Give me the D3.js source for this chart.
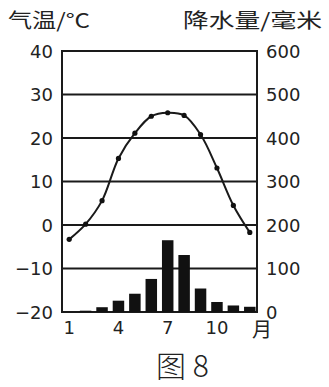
<!DOCTYPE html>
<html>
<head>
<meta charset="utf-8">
<script src="https://cdn.jsdelivr.net/npm/d3@7"></script>
<style>
  body { margin: 0; background: #fff; }
  text { fill: #222; }
</style>
</head>
<body>
<svg id="chart" width="329" height="387"></svg>
<script>
// month data
var months = [1, 2, 3, 4, 5, 6, 7, 8, 9, 10, 11, 12];
var temps = [-3.3, 0.2, 5.6, 15.3, 21.1, 25.0, 25.8, 25.2, 20.8, 13.1, 4.5, -1.7];
var precip = [0, 3, 11, 26, 42, 76, 165, 131, 54, 23, 15, 12];
var tempTicks = [-20, -10, 0, 10, 20, 30, 40];
var precipTicks = [0, 100, 200, 300, 400, 500, 600];
var monthLabels = [1, 4, 7, 10];

var svg = d3.select("#chart");
var plotL = 62, plotR = 257, plotT = 51, plotB = 312;

var x = d3.scaleBand().domain(months).range([61, 258]).paddingInner(0.3).paddingOuter(0.15);
var yT = d3.scaleLinear().domain([-20, 40]).range([plotB, plotT]);
var yP = d3.scaleLinear().domain([0, 600]).range([plotB, plotT]);

// horizontal grid lines
svg.append("g").selectAll("line")
  .data(tempTicks)
  .enter().append("line")
  .attr("x1", plotL).attr("x2", plotR)
  .attr("y1", function(d){ return yT(d); })
  .attr("y2", function(d){ return yT(d); })
  .attr("stroke", "#1a1a1a").attr("stroke-width", 2);

// frame sides
svg.append("line").attr("x1", plotL).attr("x2", plotL).attr("y1", plotT - 1).attr("y2", plotB + 1)
  .attr("stroke", "#1a1a1a").attr("stroke-width", 2);
svg.append("line").attr("x1", plotR).attr("x2", plotR).attr("y1", plotT - 1).attr("y2", plotB + 1)
  .attr("stroke", "#1a1a1a").attr("stroke-width", 2);

// precipitation bars
svg.append("g").selectAll("rect")
  .data(months)
  .enter().append("rect")
  .attr("x", function(d){ return x(d); })
  .attr("width", x.bandwidth())
  .attr("y", function(d, i){ return yP(precip[i]); })
  .attr("height", function(d, i){ return plotB - yP(precip[i]); })
  .attr("fill", "#111");

// temperature curve
var line = d3.line()
  .x(function(d, i){ return x(months[i]) + x.bandwidth() / 2; })
  .y(function(d){ return yT(d); })
  .curve(d3.curveCatmullRom);
svg.append("path")
  .attr("d", line(temps))
  .attr("fill", "none").attr("stroke", "#1a1a1a").attr("stroke-width", 2);
svg.append("g").selectAll("circle")
  .data(temps)
  .enter().append("circle")
  .attr("cx", function(d, i){ return x(months[i]) + x.bandwidth() / 2; })
  .attr("cy", function(d){ return yT(d); })
  .attr("r", 2.6).attr("fill", "#111");

// axis labels
var numFont = "'DejaVu Sans', sans-serif";
svg.append("g").selectAll("text")
  .data(tempTicks)
  .enter().append("text")
  .attr("x", 53).attr("y", function(d){ return yT(d) + 6.5; })
  .attr("text-anchor", "end")
  .style("font-family", numFont).style("font-size", "18px")
  .text(function(d){ return d < 0 ? "\u2212" + Math.abs(d) : d; });

svg.append("g").selectAll("text")
  .data(precipTicks)
  .enter().append("text")
  .attr("x", 266).attr("y", function(d){ return yP(d) + 6.5; })
  .style("font-family", numFont).style("font-size", "18px")
  .text(function(d){ return d; });

svg.append("g").selectAll("text")
  .data(monthLabels)
  .enter().append("text")
  .attr("x", function(d){ return x(d) + x.bandwidth() / 2; })
  .attr("y", 334)
  .attr("text-anchor", "middle")
  .style("font-family", numFont).style("font-size", "18px")
  .text(function(d){ return d; });

var cjk = "'Noto Sans CJK SC', sans-serif";
svg.append("text").attr("x", 252).attr("y", 337)
  .style("font-family", cjk).style("font-size", "20px").text("月");

svg.append("text").attr("x", 8).attr("y", 28)
  .attr("textLength", 82).attr("lengthAdjust", "spacingAndGlyphs")
  .style("font-family", cjk).style("font-size", "20px").text("气温/°C");

svg.append("text").attr("x", 183).attr("y", 28)
  .attr("textLength", 139).attr("lengthAdjust", "spacingAndGlyphs")
  .style("font-family", cjk).style("font-size", "20px").text("降水量/毫米");

svg.append("text").attr("x", 156).attr("y", 377)
  .style("font-family", cjk).style("font-size", "30px").style("font-weight", "300")
  .text("图 8");
</script>
</body>
</html>
